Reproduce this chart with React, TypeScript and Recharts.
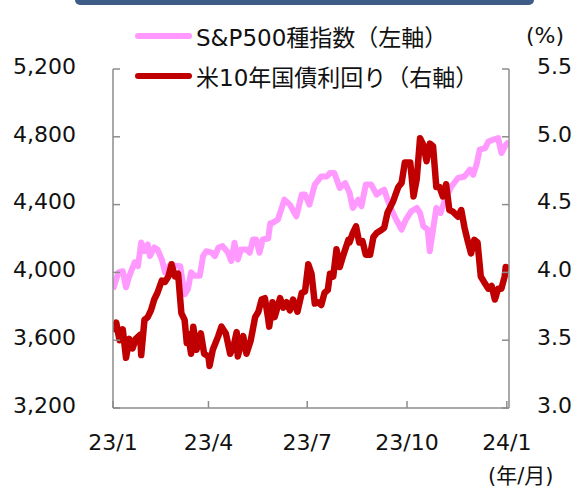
import React from 'react';
import { LineChart, Line, XAxis, YAxis, Legend } from 'recharts';

// x positions are days counted from 2023-01-01
const xTickDays = [2, 90, 181, 273, 365];
const xTickLabels = ['23/1', '23/4', '23/7', '23/10', '24/1'];
const leftTicks = [3200, 3600, 4000, 4400, 4800, 5200];
const rightTicks = [3.0, 3.5, 4.0, 4.5, 5.0, 5.5];

// S&P500 (left axis)
const spDays = [
  2, 7, 11, 14, 17, 22, 25, 28, 31, 34, 36, 40, 43, 47, 50, 55, 60, 64, 68, 71, 74, 77, 82, 85, 88,
  93, 96, 99, 103, 108, 111, 114, 117, 120, 125, 128, 131, 134, 137, 140, 145, 147, 149, 154, 160,
  165, 171, 176, 179, 183, 188, 194, 199, 202, 206, 211, 216, 220, 223, 228, 231, 235, 240, 245,
  249, 252, 255, 260, 263, 268, 272, 277, 282, 285, 288, 292, 294, 297, 300, 304, 308, 314, 320,
  326, 331, 334, 337, 340, 345, 348, 352, 357, 360, 364, 367,
];
const spValues = [
  3900, 4000, 4007, 3912, 3978, 4059, 4037, 4176, 4125, 4165, 4096, 4147, 4135, 4076, 4000, 4047,
  4040, 4037, 3871, 3900, 4000, 3980, 3980, 4096, 4125, 4117, 4096, 4145, 4155, 4117, 4067, 4175,
  4076, 4135, 4135, 4116, 4194, 4194, 4116, 4194, 4200, 4290, 4292, 4312, 4429, 4400, 4331, 4459,
  4459, 4400, 4518, 4566, 4566, 4586, 4586, 4498, 4527, 4470, 4380, 4429, 4390, 4518, 4518, 4459,
  4478, 4488, 4429, 4351, 4312, 4253, 4312, 4361, 4380, 4351, 4273, 4253, 4125, 4253, 4380, 4351,
  4429, 4508, 4557, 4566, 4606, 4576, 4635, 4724, 4733, 4772, 4782, 4792, 4704, 4753, 4772,
];

// US 10Y treasury yield, % (right axis)
const yieldDays = [
  2, 5, 8, 11, 14, 17, 20, 23, 27, 28, 31, 34, 37, 40, 43, 47, 50, 53, 56, 59, 62, 65, 68, 70, 71,
  74, 76, 79, 83, 86, 90, 91, 94, 99, 102, 106, 110, 113, 116, 117, 122, 125, 129, 133, 136, 139,
  142, 145, 146, 149, 151, 156, 159, 162, 165, 168, 172, 176, 179, 182, 185, 188, 191, 194, 197,
  200, 202, 205, 208, 211, 214, 219, 220, 223, 226, 229, 232, 235, 239, 242, 245, 249, 252, 255,
  260, 265, 268, 271, 276, 279, 282, 285, 288, 291, 294, 297, 300, 303, 306, 309, 312, 315, 320,
  323, 326, 329, 332, 335, 338, 341, 344, 348, 351, 354, 357, 360, 363, 364, 367,
];
const yieldValues = [
  3.56, 3.63, 3.5, 3.58, 3.37, 3.51, 3.44, 3.51, 3.54, 3.39, 3.65, 3.67, 3.72, 3.8, 3.85, 3.94,
  3.93, 3.97, 4.06, 3.97, 3.99, 3.7, 3.65, 3.48, 3.55, 3.4, 3.6, 3.43, 3.55, 3.4, 3.38, 3.31, 3.43,
  3.53, 3.6, 3.55, 3.4, 3.45, 3.56, 3.38, 3.53, 3.4, 3.5, 3.67, 3.71, 3.8, 3.81, 3.66, 3.6, 3.78,
  3.67, 3.81, 3.74, 3.78, 3.72, 3.8, 3.71, 3.85, 3.86, 4.06, 3.99, 3.77, 3.78, 3.76, 3.85, 3.87,
  3.99, 3.97, 4.17, 4.04, 4.12, 4.24, 4.22, 4.29, 4.34, 4.22, 4.23, 4.13, 4.13, 4.26, 4.29, 4.31,
  4.33, 4.44, 4.52, 4.63, 4.66, 4.81, 4.81, 4.56, 4.69, 4.99, 4.94, 4.82, 4.95, 4.93, 4.63, 4.63,
  4.56, 4.65, 4.46, 4.45, 4.41, 4.46, 4.33, 4.23, 4.14, 4.24, 4.22, 3.97, 3.93, 3.88, 3.9, 3.8,
  3.88, 3.88, 3.97, 4.04, 4.03,
];

const spData = spDays.map((d, i) => ({ day: d, sp: spValues[i] }));
const yieldData = yieldDays.map((d, i) => ({ day: d, yld: yieldValues[i] }));

const axisColor = '#8C8C8C';
const tickFont = { fill: '#111', fontSize: 22, fontFamily: 'DejaVu Sans' };

const LegendBox = ({ payload }: any) => (
  <div style={{ fontFamily: '"DejaVu Sans", "Noto Sans CJK JP"', fontSize: 23, color: '#111' }}>
    {(payload || []).map((p: any) => (
      <div key={p.value} style={{ display: 'flex', alignItems: 'center', height: 40 }}>
        <svg width={60} height={10} style={{ marginRight: 2 }}>
          <line x1={4} y1={5} x2={55} y2={5} stroke={p.color} strokeWidth={6} strokeLinecap="round" />
        </svg>
        <span style={{ whiteSpace: 'nowrap' }}>{p.value}</span>
      </div>
    ))}
  </div>
);

export default function App() {
  return (
    <div style={{ position: 'absolute', left: 0, top: 0, width: 577, height: 490, background: '#fff', overflow: 'hidden' }}>
      <div
        style={{
          position: 'absolute', left: 75, top: -10, width: 459, height: 15,
          background: '#3E5C86', borderRadius: 5,
        }}
      />
      <LineChart width={577} height={490} margin={{ top: 69, right: 0, bottom: 0, left: 0 }}>
        <XAxis
          dataKey="day"
          type="number"
          domain={[2, 367]}
          ticks={xTickDays}
          tickFormatter={(v: number) => xTickLabels[xTickDays.indexOf(v)]}
          height={82}
          stroke={axisColor}
          strokeWidth={1.5}
          tickSize={-7}
          tickMargin={33}
          tick={tickFont}
          allowDataOverflow
        />
        <YAxis
          yAxisId="left"
          domain={[3200, 5200]}
          ticks={leftTicks}
          tickFormatter={(v: number) => v.toLocaleString('en-US')}
          width={113}
          stroke={axisColor}
          strokeWidth={1.5}
          tickSize={-7}
          tickMargin={44}
          tick={{ ...tickFont, dy: -3 }}
          interval={0}
        />
        <YAxis
          yAxisId="right"
          orientation="right"
          domain={[3.0, 5.5]}
          ticks={rightTicks}
          tickFormatter={(v: number) => v.toFixed(1)}
          width={68}
          stroke={axisColor}
          strokeWidth={1.5}
          tickSize={-7}
          tickMargin={35}
          tick={{ ...tickFont, dy: -3 }}
          interval={0}
        />
        <Legend
          layout="vertical"
          align="center"
          verticalAlign="middle"
          wrapperStyle={{ left: 134, top: 16, width: 380 }}
          content={<LegendBox />}
        />
        <Line
          yAxisId="left"
          data={spData}
          dataKey="sp"
          name="S&P500種指数（左軸）"
          stroke="#FF99FF"
          strokeWidth={6}
          strokeLinejoin="round"
          dot={false}
          isAnimationActive={false}
        />
        <Line
          yAxisId="right"
          data={yieldData}
          dataKey="yld"
          name="米10年国債利回り（右軸）"
          stroke="#C00000"
          strokeWidth={6.5}
          strokeLinejoin="round"
          dot={false}
          isAnimationActive={false}
        />
      </LineChart>
      <div style={{ position: 'absolute', left: 526, top: 24, lineHeight: '24px', fontSize: 22, fontFamily: 'DejaVu Sans', color: '#111' }}>
        (%)
      </div>
      <div
        style={{
          position: 'absolute', left: 488, top: 464, lineHeight: '24px', fontSize: 21, color: '#111',
          fontFamily: '"DejaVu Sans", "Noto Sans CJK JP"', whiteSpace: 'nowrap',
        }}
      >
        (年/月)
      </div>
    </div>
  );
}
